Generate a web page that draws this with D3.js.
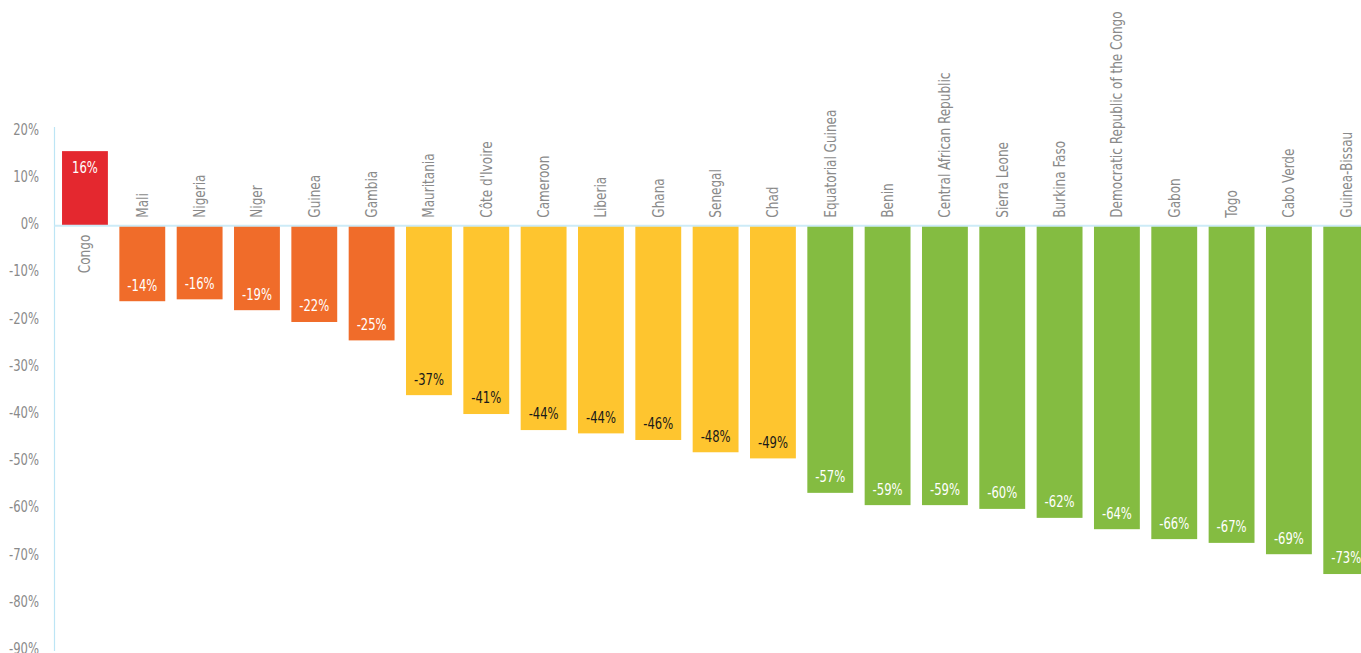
<!DOCTYPE html>
<html>
<head>
<meta charset="utf-8">
<script src="https://cdn.jsdelivr.net/npm/d3@7"></script>
<style>
  html, body { margin: 0; padding: 0; background: #ffffff; }
  svg { display: block; }
  text { font-family: "DejaVu Sans Condensed", "Roboto", sans-serif; }
</style>
</head>
<body>
<div id="chart"></div>
<script>
const countries = ["Congo", "Mali", "Nigeria", "Niger", "Guinea", "Gambia", "Mauritania", "Côte d'Ivoire", "Cameroon", "Liberia", "Ghana", "Senegal", "Chad", "Equatorial Guinea", "Benin", "Central African Republic", "Sierra Leone", "Burkina Faso", "Democratic Republic of the Congo", "Gabon", "Togo", "Cabo Verde", "Guinea-Bissau"];
const values = [15.8, -16.0, -15.6, -17.9, -20.4, -24.3, -35.9, -39.9, -43.3, -44.0, -45.4, -48.0, -49.3, -56.6, -59.2, -59.2, -60.0, -61.9, -64.3, -66.4, -67.2, -69.6, -73.8];
const valueLabels = ["16%", "-14%", "-16%", "-19%", "-22%", "-25%", "-37%", "-41%", "-44%", "-44%", "-46%", "-48%", "-49%", "-57%", "-59%", "-59%", "-60%", "-62%", "-64%", "-66%", "-67%", "-69%", "-73%"];
const groups = ["red", "orange", "orange", "orange", "orange", "orange", "yellow", "yellow", "yellow", "yellow", "yellow", "yellow", "yellow", "green", "green", "green", "green", "green", "green", "green", "green", "green", "green"];
const yTicks = [20, 10, 0, -10, -20, -30, -40, -50, -60, -70, -80, -90];

const colors = { red: "#E4282F", orange: "#F06C2A", yellow: "#FEC52F", green: "#84BC41" };
const labelColors = { red: "#ffffff", orange: "#ffffff", yellow: "#1a1a1a", green: "#ffffff" };
const SX = 0.86;   // horizontal condensing of number glyphs
const SXC = 0.895; // condensing of category labels

const W = 1361, H = 653;
const svg = d3.select("#chart").append("svg").attr("width", W).attr("height", H);

const x = d3.scaleBand().domain(countries).range([56.3, 1374.9]).paddingInner(0.2).paddingOuter(0.1);
const y = d3.scaleLinear().domain([-90, 20]).range([225.7 + 90 * 4.72, 225.7 - 20 * 4.72]);

// y axis
const yAxis = d3.axisLeft(y).tickValues(yTicks).tickSize(0).tickFormat(d => d + "%");
const gy = svg.append("g").attr("transform", "translate(54.5,0)").call(yAxis);
gy.select(".domain").remove();
gy.selectAll("text")
  .attr("x", -15.5 / SX)
  .attr("transform", `scale(${SX},1)`)
  .attr("font-size", 15).attr("fill", "#8a8a8a").attr("dy", "0.2em");
svg.append("line").attr("x1", 54.5).attr("x2", 54.5).attr("y1", 127).attr("y2", 651)
  .attr("stroke", "#BDE5F5").attr("stroke-width", 1.2);

const data = countries.map((c, i) => ({ c, v: values[i], l: valueLabels[i], g: groups[i] }));

// bars
svg.append("g").selectAll("rect").data(data).join("rect")
  .attr("x", d => x(d.c))
  .attr("width", x.bandwidth())
  .attr("y", d => Math.min(y(d.v), y(0)))
  .attr("height", d => Math.abs(y(d.v) - y(0)))
  .attr("fill", d => colors[d.g]);

// zero line
svg.append("line").attr("x1", 54.5).attr("x2", W).attr("y1", y(0)).attr("y2", y(0))
  .attr("stroke", "#CDEBF7").attr("stroke-width", 2);

// value labels
svg.append("g").selectAll("text").data(data).join("text")
  .attr("transform", d => {
    const cx = x(d.c) + x.bandwidth() / 2;
    const yy = d.v >= 0 ? y(d.v) + 16 : y(d.v) - 16;
    return `translate(${cx},${yy}) scale(${SX},1)`;
  })
  .attr("dy", "0.36em")
  .attr("text-anchor", "middle")
  .attr("font-size", 15)
  .attr("fill", d => labelColors[d.g])
  .text(d => d.l);

// category labels (rotated)
svg.append("g").selectAll("text").data(data).join("text")
  .attr("transform", d => {
    const cx = x(d.c) + x.bandwidth() / 2;
    const yy = d.v >= 0 ? y(0) + 9 : y(0) - 8;
    return `translate(${cx + 5.5},${yy}) rotate(-90) scale(${SXC},1)`;
  })
  .attr("text-anchor", d => d.v >= 0 ? "end" : "start")
  .attr("font-size", 15)
  .attr("fill", "#8a8a8a")
  .text(d => d.c);
</script>
</body>
</html>
